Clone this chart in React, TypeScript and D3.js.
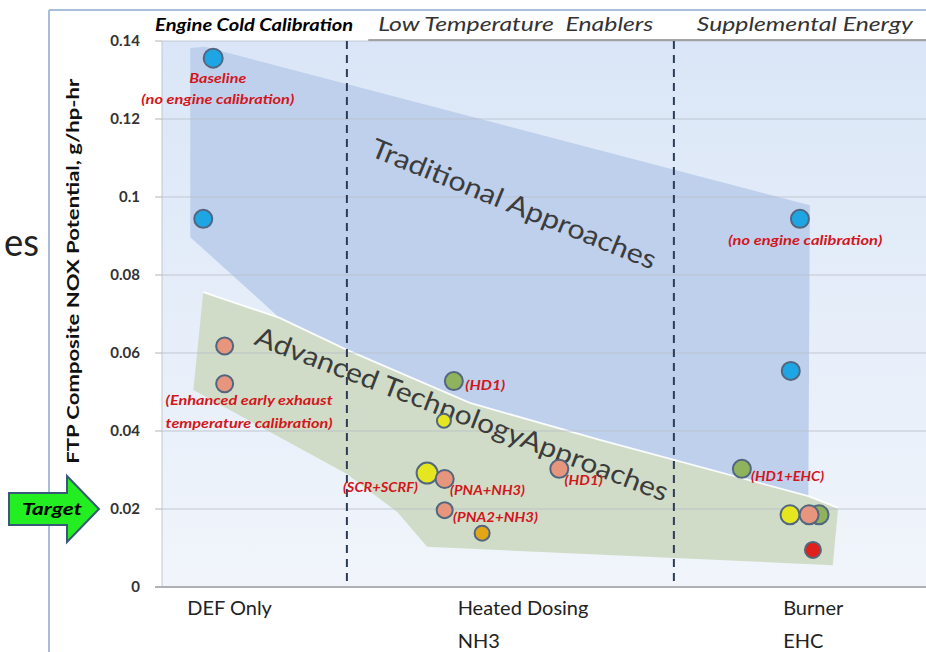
import React, { useEffect } from "react";
import * as d3 from "d3";

// ---------- data ----------
const yTicks = [0, 0.02, 0.04, 0.06, 0.08, 0.1, 0.12, 0.14];
const yTickLabels = ["0", "0.02", "0.04", "0.06", "0.08", "0.1", "0.12", "0.14"];

const categoryLines = [["DEF Only"], ["Heated Dosing", "NH3"], ["Burner", "EHC"]];
const categoryX = [0.33, 3.87, 8.13];

const separatorX = [2.42, 6.7];

const sectionNames = ["Engine Cold Calibration", "Low Temperature  Enablers", "Supplemental Energy"];
const sectionX = [-0.09, 2.83, 7.0];

// points: x position (0..10 across plot), y value (g/hp-hr), type, size
const pointX = [0.67, 0.54, 0.82, 0.82, 3.82, 3.69, 3.47, 3.7, 3.7, 4.19, 5.2, 7.59, 8.22, 8.6, 8.47, 8.52, 8.23, 8.35];
const pointY = [0.1356, 0.0944, 0.0618, 0.0521, 0.0528, 0.0426, 0.0292, 0.0277, 0.0197, 0.0138, 0.0303, 0.0303, 0.0185, 0.0185, 0.0185, 0.0095, 0.0554, 0.0944];
const pointType = ["blue", "blue", "salmon", "salmon", "green", "yellow", "yellow", "salmon", "salmon", "gold", "salmon", "green", "yellow", "green", "salmon", "red", "blue", "blue"];
const pointR = [9.5, 9, 8.5, 8.5, 9, 7, 10.5, 9, 8, 7.5, 9, 9, 9.5, 9.5, 9.5, 8, 9, 9];

const labelText = ["Baseline", "(no engine calibration)", "(Enhanced early exhaust", "temperature calibration)", "(HD1)", "(SCR+SCRF)", "(PNA+NH3)", "(PNA2+NH3)", "(HD1)", "(HD1+EHC)", "(no engine calibration)"];
const labelX = [0.73, 0.73, 1.14, 1.14, 3.97, 3.35, 3.77, 3.81, 5.27, 7.71, 8.42];
const labelY = [0.1292, 0.1238, 0.0467, 0.0408, 0.0505, 0.0244, 0.0236, 0.0167, 0.0262, 0.0272, 0.0877];
const labelAnchor = ["middle", "middle", "middle", "middle", "start", "end", "start", "start", "start", "start", "middle"];
const labelWidth = [57, 153, 167, 167, 40, 75, 75, 85, 38, 73, 154];

// bands (x position, y value)
const traditionalBand = [
  [0.37, 0.1382], [0.56, 0.1385], [8.48, 0.0979], [8.46, 0.0233], [5.73, 0.0377],
  [4.03, 0.0472], [2.42, 0.0608], [1.54, 0.069], [0.37, 0.0897],
];
const advancedBand = [
  [0.54, 0.0756], [1.54, 0.069], [2.42, 0.0608], [4.03, 0.0472], [5.73, 0.0377], [8.46, 0.0233],
  [8.85, 0.0203], [8.78, 0.0056], [3.47, 0.0103], [3.08, 0.0192], [2.42, 0.029], [0.41, 0.0505],
];
const advancedTopEdge = [[0.54, 0.0756], [1.54, 0.069], [2.42, 0.0608], [4.03, 0.0472], [5.73, 0.0377], [8.46, 0.0233], [8.85, 0.0203]];

const bandTitles = ["Traditional Approaches", "Advanced TechnologyApproaches"];
const bandTitleX = [4.61, 3.93];
const bandTitleY = [0.0985, 0.0446];
const bandTitleAngle = [22, 21];
const bandTitleLen = [305, 440];

const colors: Record<string, string> = {
  blue: "#1ea6e4",
  salmon: "#e8957e",
  green: "#8fb25c",
  yellow: "#e6e620",
  gold: "#e2a617",
  red: "#e0201c",
};

const W = 926;
const H = 652;
const FONT = "Lato, 'Open Sans', 'DejaVu Sans', sans-serif";

export default function App() {
  useEffect(() => {
    document.body.style.margin = "0";
  }, []);

  const x = d3.scaleLinear().domain([0, 10]).range([162, 926]);
  const y = d3.scaleLinear().domain([0, 0.14]).range([587, 41]);
  const line = d3.line<number[]>().x((d) => x(d[0])).y((d) => y(d[1]));
  const poly = (pts: number[][]) => line(pts) + "Z";

  const plotL = x(0);
  const plotR = x(10);
  const plotT = y(0.14);
  const plotB = y(0);

  const order = d3.range(pointX.length);
  const ty = y(0.02);

  return (
    <svg width={W} height={H} style={{ position: "absolute", left: 0, top: 0, background: "#fff" }} fontFamily={FONT}>
      <defs>
        <linearGradient id="bg" x1="0" y1="0" x2="0" y2="1">
          <stop offset="0" stopColor="#dae6f7" />
          <stop offset="1" stopColor="#f1f5fb" />
        </linearGradient>
      </defs>
      <rect x={0} y={0} width={W} height={H} fill="#ffffff" />

      {/* slide leftover */}
      <text x={4} y={256} fontSize={38} fill="#222" textLength={35} lengthAdjust="spacingAndGlyphs">es</text>

      {/* frame */}
      <line x1={49} y1={10} x2={W} y2={10} stroke="#a7bedc" strokeWidth={2} />
      <line x1={49} y1={10} x2={49} y2={H} stroke="#a7bedc" strokeWidth={2} />

      {/* plot bg */}
      <rect x={plotL} y={plotT} width={plotR - plotL} height={plotB - plotT} fill="url(#bg)" />

      {/* bands */}
      <path d={poly(traditionalBand)} fill="#bfd0ec" />
      <path d={poly(advancedBand)} fill="#d0dcc7" />
      <path d={line(advancedTopEdge) || ""} fill="none" stroke="#ffffff" strokeWidth={1.8} opacity={0.9} />

      {/* gridlines */}
      {yTicks.filter((t) => t > 0).map((t) => (
        <line key={t} x1={plotL} x2={plotR} y1={y(t)} y2={y(t)} stroke="#b9bfc9" strokeWidth={1} opacity={0.8} />
      ))}
      <line x1={x(2.7)} x2={plotR} y1={plotT - 1} y2={plotT - 1} stroke="#8a8a8a" strokeWidth={1.5} />

      {/* band titles */}
      {bandTitles.map((t, i) => (
        <text key={t} x={x(bandTitleX[i])} y={y(bandTitleY[i])} fontSize={27} fill="#3c3c3c" textAnchor="middle" dominantBaseline="central"
          transform={`rotate(${bandTitleAngle[i]}, ${x(bandTitleX[i])}, ${y(bandTitleY[i])})`}
          textLength={bandTitleLen[i]} lengthAdjust="spacingAndGlyphs">{t}</text>
      ))}

      {/* separators */}
      {separatorX.map((s) => (
        <line key={s} x1={x(s)} x2={x(s)} y1={plotT} y2={plotB} stroke="#2c3b58" strokeWidth={2} strokeDasharray="8 6" />
      ))}

      {/* axes */}
      <line x1={plotL} x2={plotL} y1={plotT} y2={plotB} stroke="#c3c6cc" strokeWidth={1} />
      <line x1={155} x2={plotR} y1={plotB} y2={plotB} stroke="#aeb0b4" strokeWidth={2} />
      {yTicks.map((t, i) => (
        <g key={t}>
          <line x1={155} x2={plotL} y1={y(t)} y2={y(t)} stroke="#b0b3b8" strokeWidth={1} />
          <text x={140} y={y(t)} dy="0.35em" textAnchor="end" fontSize={15} fontWeight="bold" fill="#333">{yTickLabels[i]}</text>
        </g>
      ))}
      <text transform={`translate(79, ${(y(0.0317) + y(0.1302)) / 2}) rotate(-90)`} textAnchor="middle" fontSize={17} fontWeight="bold" fill="#111"
        textLength={385} lengthAdjust="spacingAndGlyphs">FTP Composite NOX Potential, g/hp-hr</text>

      {/* categories */}
      {categoryLines.map((lines, i) =>
        lines.map((l, j) => (
          <text key={l} x={x(categoryX[i])} y={615 + j * 33} fontSize={20} fill="#222">{l}</text>
        ))
      )}

      {/* section headers */}
      {sectionNames.map((s, i) => (
        <text key={s} x={x(sectionX[i])} y={31} fontSize={i === 0 ? 16.5 : 18.5} fontStyle="italic" fontWeight={i === 0 ? "bold" : "normal"}
          fill={i === 0 ? "#000" : "#333"} style={{ whiteSpace: "pre" }}
          textLength={[198, 275, 216][i]} lengthAdjust="spacingAndGlyphs">{s}</text>
      ))}

      {/* points */}
      {order.map((i) => (
        <circle key={i} cx={x(pointX[i])} cy={y(pointY[i])} r={pointR[i]} fill={colors[pointType[i]]} stroke="#52677f" strokeWidth={2} />
      ))}

      {/* labels */}
      {labelText.map((t, i) => (
        <text key={i} x={x(labelX[i])} y={y(labelY[i])} textAnchor={labelAnchor[i] as any} fontSize={12.5} fontStyle="italic" fontWeight="bold" fill="#d2161c"
          textLength={labelWidth[i]} lengthAdjust="spacingAndGlyphs">{t}</text>
      ))}

      {/* target arrow */}
      <path d={`M9,${ty - 16} L67,${ty - 16} L67,${ty - 33} L99,${ty} L67,${ty + 33} L67,${ty + 16} L9,${ty + 16} Z`} fill="#22ee22" stroke="#3a5878" strokeWidth={2} strokeLinejoin="miter" />
      <text x={52} y={ty} dy="0.35em" textAnchor="middle" fontSize={17} fontStyle="italic" fontWeight="bold" fill="#000" textLength={60} lengthAdjust="spacingAndGlyphs">Target</text>
    </svg>
  );
}
